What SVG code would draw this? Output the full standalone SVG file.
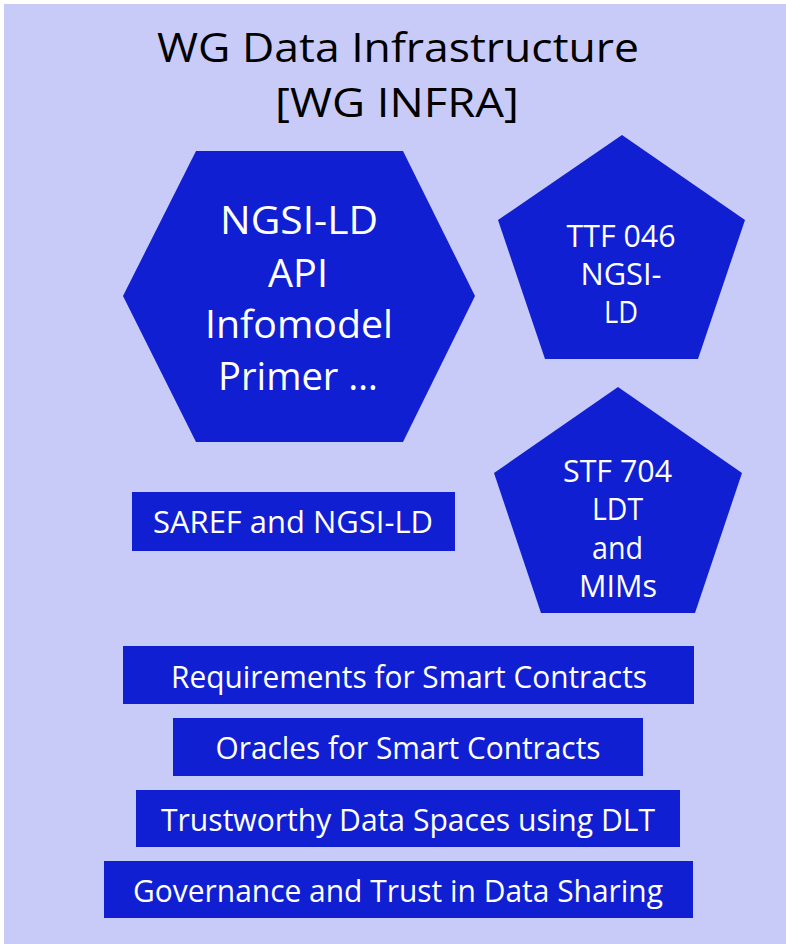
<svg xmlns="http://www.w3.org/2000/svg" width="786" height="944" viewBox="0 0 786 944">
<style>
.bg{fill:#C8CBF8}
.shape{fill:#111FD2}
text{font-family:"Open Sans","Noto Sans","Liberation Sans",sans-serif;text-anchor:middle}
.t{fill:#000;font-size:41px}
.w{fill:#fff;font-size:31px}
.wl{fill:#fff;font-size:38px}
</style>
<rect width="786" height="944" fill="#fff"/>
<rect class="bg" x="4" y="4" width="782" height="940"/>
<g id="title">
<text class="t" x="398" y="62" textLength="482" lengthAdjust="spacingAndGlyphs">WG Data Infrastructure</text>
<text class="t" x="397" y="117" textLength="244" lengthAdjust="spacingAndGlyphs">[WG INFRA]</text>
</g>
<g id="ngsi-ld-hex">
<polygon class="shape" points="196,151 403,151 475,296 403,442 196,442 123,296"/>
<text class="wl" x="299" y="234" textLength="158" lengthAdjust="spacingAndGlyphs">NGSI-LD</text>
<text class="wl" x="298" y="287" textLength="60" lengthAdjust="spacingAndGlyphs">API</text>
<text class="wl" x="299" y="338" textLength="188" lengthAdjust="spacingAndGlyphs">Infomodel</text>
<text class="wl" x="298" y="390" textLength="160" lengthAdjust="spacingAndGlyphs">Primer …</text>
</g>
<g id="ttf046">
<polygon class="shape" points="622,135 745,220 698,359 545,359 498,220"/>
<text class="w" x="621" y="247" textLength="109" lengthAdjust="spacingAndGlyphs">TTF 046</text>
<text class="w" x="621" y="285" textLength="81" lengthAdjust="spacingAndGlyphs">NGSI-</text>
<text class="w" x="621" y="323" textLength="34" lengthAdjust="spacingAndGlyphs">LD</text>
</g>
<g id="stf704">
<polygon class="shape" points="618,387 742,473 695,613 541,613 494,473"/>
<text class="w" x="617.5" y="482" textLength="109" lengthAdjust="spacingAndGlyphs">STF 704</text>
<text class="w" x="617.5" y="520" textLength="51" lengthAdjust="spacingAndGlyphs">LDT</text>
<text class="w" x="617.5" y="559" textLength="51" lengthAdjust="spacingAndGlyphs">and</text>
<text class="w" x="618" y="597" textLength="78" lengthAdjust="spacingAndGlyphs">MIMs</text>
</g>
<g id="saref">
<rect class="shape" x="132" y="492" width="323" height="59"/>
<text class="w" x="293" y="533" textLength="280" lengthAdjust="spacingAndGlyphs">SAREF and NGSI-LD</text>
</g>
<g id="req-smart-contracts">
<rect class="shape" x="123" y="646" width="571" height="58"/>
<text class="w" x="409" y="688" textLength="476" lengthAdjust="spacingAndGlyphs">Requirements for Smart Contracts</text>
</g>
<g id="oracles">
<rect class="shape" x="173" y="718" width="470" height="58"/>
<text class="w" x="408" y="759" textLength="385" lengthAdjust="spacingAndGlyphs">Oracles for Smart Contracts</text>
</g>
<g id="trustworthy">
<rect class="shape" x="136" y="790" width="544" height="57"/>
<text class="w" x="408" y="831" textLength="494" lengthAdjust="spacingAndGlyphs">Trustworthy Data Spaces using DLT</text>
</g>
<g id="governance">
<rect class="shape" x="104" y="861" width="589" height="57"/>
<text class="w" x="398" y="902" textLength="530" lengthAdjust="spacingAndGlyphs">Governance and Trust in Data Sharing</text>
</g>
<g id="connectors"/>
</svg>
